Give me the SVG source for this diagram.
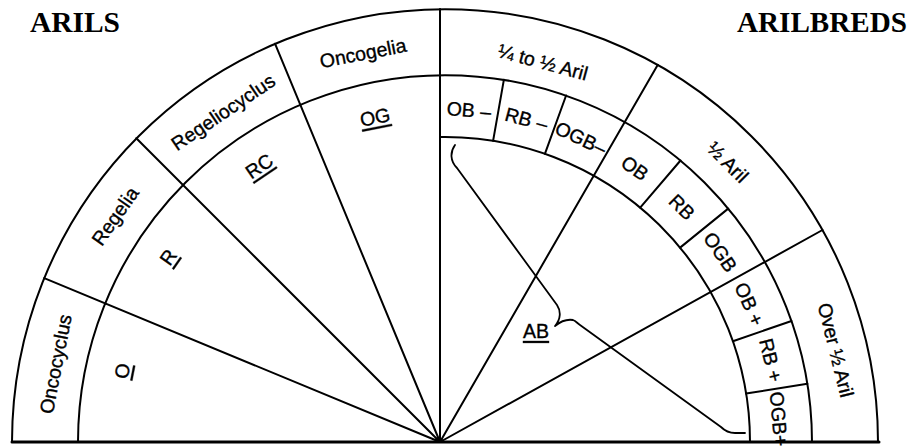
<svg xmlns="http://www.w3.org/2000/svg" width="913" height="446" viewBox="0 0 913 446">
<style>
.ln{fill:none;stroke:#000;stroke-width:2;stroke-linecap:round}
.br{fill:none;stroke:#000;stroke-width:1.8;stroke-linejoin:round;stroke-linecap:round}
.t{font-family:"Liberation Sans",Arial,sans-serif;font-size:19.5px;fill:#000;stroke:#000;stroke-width:0.35;text-anchor:middle;dominant-baseline:central}
.u{text-decoration:underline}
.h{font-family:"Liberation Serif","Times New Roman",serif;font-weight:bold;font-size:30px;fill:#000}
</style>
<rect width="913" height="446" fill="#fff"/>
<g id="titles">
<text class="h" x="30" y="32" textLength="90" lengthAdjust="spacingAndGlyphs">ARILS</text>
<text class="h" x="737" y="32" textLength="170" lengthAdjust="spacingAndGlyphs">ARILBREDS</text>
</g>
<g id="frame" class="ln">
<path d="M12,442 A433,433 0 0 1 878,442"/>
<path d="M78,442 A367,367 0 0 1 812,442"/>
<path d="M440,137 A305,305 0 0 1 750,442"/>
<path d="M12,442 H879" stroke-width="3"/>
</g>
<g id="connectors">
<g class="ln">
<path d="M440,442 L44.2,278.1 M440,442 L136.3,138.3 M440,442 L275,43.7 M440,442 L440,9 M440,442 L657.8,64.8 M440,442 L822.5,230"/>
<path d="M493.1,140.8 L503.9,79.7 M544.9,153.8 L566.1,95.5 M640.2,207.6 L680.5,160.5 M680.1,247.6 L728.2,208.6 M732.9,341.2 L791.5,321 M746.1,393.5 L807.4,383.8"/>
</g>
<path class="br" d="M455,145 C450,152 450,161 457,168 L557,305 C561,311 561,319 555,326 C561,321 567,319 573,320 C576,321 577,323 580,325 L721,427 C725,431 729,433 735,433 L745,433"/>
</g>
<g id="oncocyclus"><text class="t" transform="translate(55.4,364) rotate(-79)">Oncocyclus</text><text class="t u" transform="translate(122,371) rotate(-79)">O</text></g>
<g id="regelia"><text class="t" transform="translate(115,216) rotate(-55)">Regelia</text><text class="t u" transform="translate(168,257) rotate(-55)">R</text></g>
<g id="regeliocyclus"><text class="t" transform="translate(223,112) rotate(-34)">Regeliocyclus</text><text class="t u" transform="translate(259,166) rotate(-34)">RC</text></g>
<g id="oncogelia"><text class="t" transform="translate(363,53) rotate(-11)">Oncogelia</text><text class="t u" transform="translate(375,117) rotate(-11)">OG</text></g>
<g id="quarter-to-half"><text class="t" transform="translate(543,62) rotate(15)">¼ to ½ Aril</text></g>
<g id="half"><text class="t" transform="translate(728,162) rotate(45)">½ Aril</text></g>
<g id="over-half"><text class="t" transform="translate(836,350) rotate(76)">Over ½ Aril</text></g>
<g id="ob-minus"><text class="t" transform="translate(469,110) rotate(5)">OB –</text></g>
<g id="rb-minus"><text class="t" transform="translate(526.5,119) rotate(15)">RB –</text></g>
<g id="ogb-minus"><text class="t" transform="translate(581,138) rotate(25)">OGB–</text></g>
<g id="ob"><text class="t" transform="translate(635,168) rotate(35)">OB</text></g>
<g id="rb"><text class="t" transform="translate(682,207) rotate(45)">RB</text></g>
<g id="ogb"><text class="t" transform="translate(720.5,252) rotate(56)">OGB</text></g>
<g id="ob-plus"><text class="t" transform="translate(749.5,304) rotate(66)">OB +</text></g>
<g id="rb-plus"><text class="t" transform="translate(771,360) rotate(76)">RB +</text></g>
<g id="ogb-plus"><text class="t" transform="translate(779,419) rotate(85)">OGB+</text></g>
<g id="ab"><text class="t u" x="536" y="331">AB</text></g>
</svg>
